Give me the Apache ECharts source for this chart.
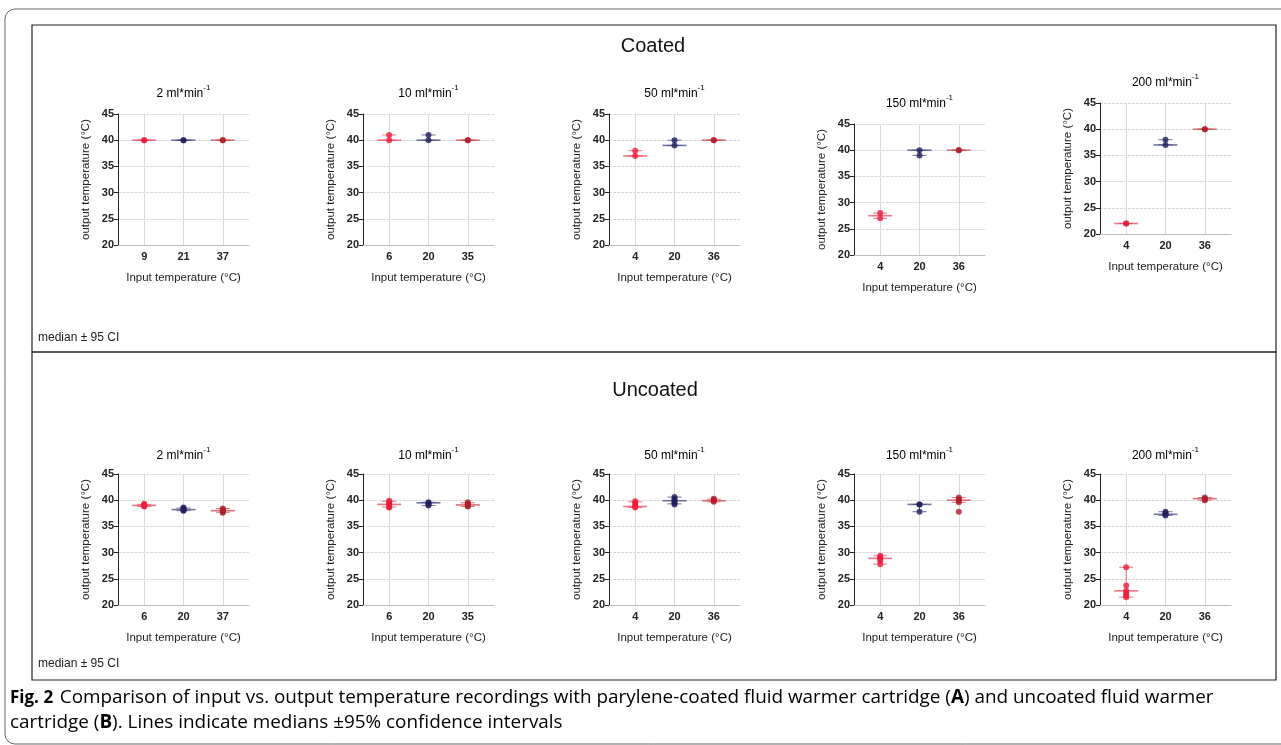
<!DOCTYPE html>
<html>
<head>
<meta charset="utf-8">
<script src="https://cdn.jsdelivr.net/npm/echarts@6/dist/echarts.min.js"></script>
<style>
html,body{margin:0;padding:0;background:#fff;}
#chart{width:1281px;height:745px;}
</style>
</head>
<body>
<div id="chart"></div>
<script>
// ---------------- DATA ----------------
const flowRates = ['2', '10', '50', '150', '200'];
const yTickLabels = [20, 25, 30, 35, 40, 45];

const coatedInputTemps = [['9','21','37'], ['6','20','35'], ['4','20','36'], ['4','20','36'], ['4','20','36']];
const coatedPoints = [
  [[40, 40], [40, 40], [40, 40]],
  [[41, 40], [41, 40], [40, 40]],
  [[38, 37], [40, 39], [40, 40]],
  [[28, 27], [40, 39], [40, 40]],
  [[22, 22], [38, 37], [40, 40]]
];
const coatedMedians = [[40, 40, 40], [40, 40, 40], [37, 39, 40], [27.5, 40, 40], [22, 37, 40]];
const coatedCILow   = [[40, 40, 40], [40, 40, 40], [37, 39, 40], [27, 39, 40], [22, 37, 40]];
const coatedCIHigh  = [[40, 40, 40], [41, 41, 40], [38, 40, 40], [28, 40, 40], [22, 38, 40]];

const uncoatedInputTemps = [['6','20','37'], ['6','20','35'], ['4','20','36'], ['4','20','36'], ['4','20','36']];
const uncoatedPoints = [
  [[39.3, 39.1, 39.0, 38.9, 38.8], [38.6, 38.4, 38.2, 38.1, 38.0], [38.4, 38.2, 38.0, 37.8, 37.6]],
  [[39.9, 39.6, 39.3, 39.0, 38.7, 38.6], [39.6, 39.4, 39.2, 39.0], [39.6, 39.3, 39.1, 38.9, 38.8]],
  [[39.8, 39.5, 39.1, 38.8, 38.6], [40.6, 40.3, 40.0, 39.7, 39.4, 39.2], [40.3, 40.1, 39.9, 39.7]],
  [[29.4, 29.1, 28.8, 28.5, 27.8], [39.2, 39.2, 37.8], [40.5, 40.2, 39.9, 39.6, 37.8]],
  [[27.2, 23.7, 22.7, 22.2, 21.8, 21.5], [37.8, 37.5, 37.3, 37.1], [40.5, 40.3, 40.1, 40.0]]
];
const uncoatedMedians = [[39.0, 38.2, 38.0], [39.2, 39.5, 39.1], [38.8, 39.9, 39.9], [28.9, 39.2, 40.0], [22.7, 37.3, 40.3]];
const uncoatedCILow   = [[38.8, 38.0, 37.7], [38.7, 39.0, 38.8], [38.6, 39.3, 39.7], [27.8, 37.8, 39.6], [21.5, 37.1, 40.0]];
const uncoatedCIHigh  = [[39.2, 38.5, 38.4], [39.8, 39.6, 39.5], [39.7, 40.6, 40.2], [29.4, 39.2, 40.5], [27.2, 37.8, 40.5]];

// ---------------- STYLE / LAYOUT ----------------
const FONT = '"Liberation Sans", Arial, sans-serif';
const CAPFONT = '"Open Sans", "Noto Sans", sans-serif';
const pointColors = ['#ec1c3c', '#22215c', '#b01e2c'];
const lineColors = ['rgba(239,80,100,0.8)', 'rgba(70,70,130,0.75)', 'rgba(205,80,90,0.8)'];
const gridLefts = [118, 363, 609, 854, 1100];
const coatedTops = [114, 114, 114, 124, 103];
const uncoatedTops = [474, 474, 474, 474, 474];
const plotW = 131, plotH = 131;

const grids = [], xAxes = [], yAxes = [], series = [], graphics = [];

function addPanel(idx, left, top, cats, points, med, lo, hi) {
  grids.push({left: left, top: top, width: plotW, height: plotH});
  xAxes.push({
    type: 'value', gridIndex: idx, min: 1/3, max: 11/3,
    axisLine: {show: true, lineStyle: {color: '#bdbdbd', width: 1}},
    axisTick: {show: false, customValues: [1, 2, 3]},
    axisLabel: {customValues: [1, 2, 3], formatter: v => cats[Math.round(v) - 1],
      fontFamily: FONT, fontWeight: 'bold', fontSize: 11, color: '#222', margin: 6},
    splitLine: {show: true, lineStyle: {color: '#d9d9d9', width: 1}},
    name: 'Input temperature (°C)', nameLocation: 'middle', nameGap: 27,
    nameTextStyle: {fontFamily: FONT, fontSize: 11.5, color: '#222'}
  });
  yAxes.push({
    type: 'value', gridIndex: idx,
    min: yTickLabels[0], max: yTickLabels[yTickLabels.length - 1], interval: yTickLabels[1] - yTickLabels[0],
    axisLine: {show: true, lineStyle: {color: '#222', width: 1}},
    axisTick: {show: true, length: 4, inside: false, lineStyle: {color: '#222'}},
    axisLabel: {fontFamily: FONT, fontWeight: 'bold', fontSize: 11, color: '#222', margin: 4},
    splitLine: {show: true, lineStyle: {color: '#d9d9d9', width: 1, type: [3, 1]}},
    name: 'output temperature (°C)', nameLocation: 'middle', nameGap: 26,
    nameTextStyle: {fontFamily: FONT, fontSize: 11.5, color: '#222'}
  });
  const errData = [];
  const ptData = [];
  for (let g = 0; g < 3; g++) {
    errData.push([g + 1, med[g], lo[g], hi[g], g]);
    points[g].forEach(v => ptData.push({value: [g + 1, v], itemStyle: {color: pointColors[g]}}));
  }
  series.push({
    type: 'custom', xAxisIndex: idx, yAxisIndex: idx, z: 3,
    encode: {x: 0, y: [1, 2, 3]},
    data: errData,
    renderItem: function (params, api) {
      const x = api.value(0);
      const pm = api.coord([x, api.value(1)]);
      const pl = api.coord([x, api.value(2)]);
      const ph = api.coord([x, api.value(3)]);
      const c = lineColors[api.value(4)];
      const st = {stroke: c, lineWidth: 1};
      return {type: 'group', children: [
        {type: 'line', shape: {x1: pm[0] - 12, y1: pm[1], x2: pm[0] + 12, y2: pm[1]}, style: {stroke: c, lineWidth: 1.6}},
        {type: 'line', shape: {x1: pl[0], y1: pl[1], x2: ph[0], y2: ph[1]}, style: st},
        {type: 'line', shape: {x1: pl[0] - 7, y1: pl[1], x2: pl[0] + 7, y2: pl[1]}, style: st},
        {type: 'line', shape: {x1: ph[0] - 7, y1: ph[1], x2: ph[0] + 7, y2: ph[1]}, style: st}
      ]};
    }
  });
  series.push({
    type: 'scatter', xAxisIndex: idx, yAxisIndex: idx, z: 4,
    symbol: 'circle', symbolSize: 6, data: ptData
  });
}

for (let i = 0; i < 5; i++) {
  addPanel(i, gridLefts[i], coatedTops[i], coatedInputTemps[i], coatedPoints[i], coatedMedians[i], coatedCILow[i], coatedCIHigh[i]);
}
for (let i = 0; i < 5; i++) {
  addPanel(i + 5, gridLefts[i], uncoatedTops[i], uncoatedInputTemps[i], uncoatedPoints[i], uncoatedMedians[i], uncoatedCILow[i], uncoatedCIHigh[i]);
}

// subplot titles
function addTitle(cx, cy, flow) {
  graphics.push({
    type: 'text', x: cx, y: cy,
    style: {
      text: '{a|' + flow + ' ml*min}{s|-1}',
      align: 'center', verticalAlign: 'middle',
      rich: {
        a: {fontFamily: FONT, fontSize: 12, color: '#222', lineHeight: 16, verticalAlign: 'bottom'},
        s: {fontFamily: FONT, fontSize: 8, color: '#222', lineHeight: 16, verticalAlign: 'top'}
      }
    }
  });
}
for (let i = 0; i < 5; i++) {
  addTitle(gridLefts[i] + plotW / 2, coatedTops[i] - 22, flowRates[i]);
  addTitle(gridLefts[i] + plotW / 2, uncoatedTops[i] - 20, flowRates[i]);
}

// frames
graphics.push({type: 'rect', shape: {x: 5, y: 9, width: 1400, height: 735, r: 10}, style: {fill: 'none', stroke: '#666', lineWidth: 1}, z: 0});
graphics.push({type: 'rect', shape: {x: 32, y: 25, width: 1244, height: 327}, style: {fill: 'none', stroke: '#222', lineWidth: 1.2}, z: 0});
graphics.push({type: 'rect', shape: {x: 32, y: 352, width: 1244, height: 328}, style: {fill: 'none', stroke: '#222', lineWidth: 1.2}, z: 0});
graphics.push({type: 'text', x: 653, y: 46, style: {text: 'Coated', fontFamily: FONT, fontSize: 20, fill: '#111', align: 'center', verticalAlign: 'middle'}});
graphics.push({type: 'text', x: 655, y: 390, style: {text: 'Uncoated', fontFamily: FONT, fontSize: 20, fill: '#111', align: 'center', verticalAlign: 'middle'}});
graphics.push({type: 'text', x: 38, y: 338, style: {text: 'median ± 95 CI', fontFamily: FONT, fontSize: 12, fill: '#222', verticalAlign: 'middle'}});
graphics.push({type: 'text', x: 38, y: 664, style: {text: 'median ± 95 CI', fontFamily: FONT, fontSize: 12, fill: '#222', verticalAlign: 'middle'}});
// caption
const capRich = {
  f: {fontFamily: CAPFONT, fontSize: 17, fontWeight: 'bold', color: '#222'},
  b: {fontFamily: CAPFONT, fontSize: 18.9, fontWeight: 'bold', color: '#222'},
  n: {fontFamily: CAPFONT, fontSize: 18.9, color: '#222'}
};
graphics.push({type: 'text', x: 10, y: 698, style: {
  text: '{f|Fig. 2}  {n|Comparison of input vs. output temperature recordings with parylene-coated fluid warmer cartridge (}{b|A}{n|) and uncoated fluid warmer}',
  verticalAlign: 'middle', rich: capRich
}});
graphics.push({type: 'text', x: 10, y: 723, style: {
  text: '{n|cartridge (}{b|B}{n|). Lines indicate medians ±95% confidence intervals}',
  verticalAlign: 'middle', rich: capRich
}});

const chart = echarts.init(document.getElementById('chart'), null, {renderer: 'canvas'});
chart.setOption({
  animation: false,
  backgroundColor: '#fff',
  grid: grids, xAxis: xAxes, yAxis: yAxes, series: series, graphic: graphics
});
</script>
</body>
</html>
